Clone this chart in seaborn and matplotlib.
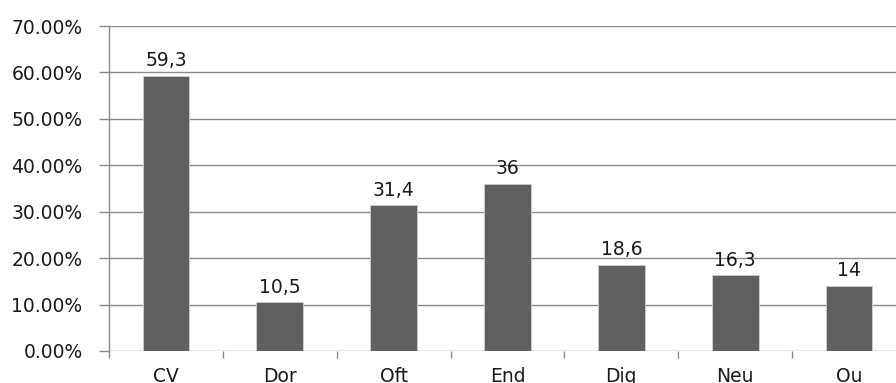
import matplotlib
matplotlib.use("Agg")
import matplotlib.pyplot as plt
import seaborn as sns
import pandas as pd
from matplotlib.ticker import FuncFormatter, FixedLocator

categories = ["CV", "Dor", "Oft", "End", "Dig", "Neu", "Ou"]
values = [59.3, 10.5, 31.4, 36.0, 18.6, 16.3, 14.0]
labels = ["59,3", "10,5", "31,4", "36", "18,6", "16,3", "14"]

df = pd.DataFrame({"cat": categories, "val": [v / 100 for v in values]})

sns.set_theme(style="white")
plt.rcParams["font.family"] = ["DejaVu Sans"]

fig = plt.figure(figsize=(8.96, 3.83), dpi=100)
ax = fig.add_axes([109 / 896, 32 / 383, 797 / 896, 325 / 383])

sns.barplot(data=df, x="cat", y="val", color="#606060", width=0.41,
            saturation=1, ax=ax, edgecolor="#d0d0d0", linewidth=0.6, zorder=3)

ax.set_ylim(0, 0.70)
ax.set_xlim(-0.5, 6.5)
ax.set_yticks([i / 10 for i in range(8)])
ax.yaxis.set_major_formatter(FuncFormatter(lambda v, p: f"{v*100:.2f}%"))
ax.yaxis.grid(True, color="#8a8a8a", linewidth=1.0, zorder=0)
ax.set_axisbelow(True)

for s in ["top", "right", "bottom"]:
    ax.spines[s].set_visible(False)
ax.spines["left"].set_color("#8a8a8a")
ax.spines["left"].set_linewidth(1.0)

ax.tick_params(axis="y", which="major", left=True, length=7, color="#8a8a8a",
               width=1.0, labelsize=13.5, pad=12, labelcolor="#1a1a1a")
ax.set_xticks(range(len(categories)))
ax.set_xticklabels(categories)
ax.tick_params(axis="x", which="major", bottom=False, labelsize=13.5, pad=5.5,
               labelcolor="#1a1a1a")
ax.xaxis.set_minor_locator(FixedLocator([i + 0.5 for i in range(-1, 7)]))
ax.tick_params(axis="x", which="minor", bottom=True, length=5, color="#8a8a8a",
               width=1.0)

for i, (v, lab) in enumerate(zip(values, labels)):
    ax.annotate(lab, (i, v / 100), xytext=(0, 4), textcoords="offset points",
                ha="center", va="bottom", fontsize=13.5, color="#1a1a1a")

ax.set_xlabel("")
ax.set_ylabel("")

fig.savefig("out.png", dpi=100)
